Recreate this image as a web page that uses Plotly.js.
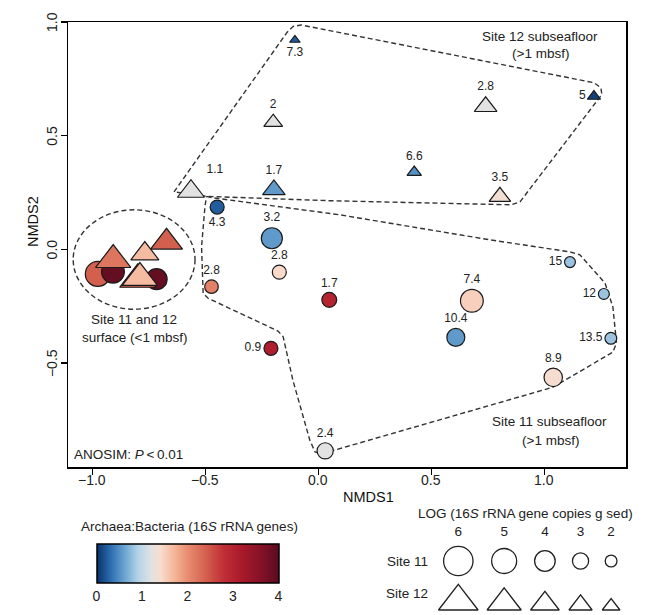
<!DOCTYPE html>
<html><head><meta charset="utf-8">
<script src="https://cdn.plot.ly/plotly-3.0.1.min.js"></script>
<style>html,body{margin:0;padding:0;background:#fff}#chart{width:656px;height:615px}</style>
</head><body><div id="chart"></div>
<script>
// ---------------- DATA ----------------
// Site 11 (circles): NMDS coordinates, Archaea:Bacteria ratio, LOG 16S copies, depth label (mbsf)
const site11X = [-0.976, -0.909, -0.716, -0.448, -0.206, -0.173, -0.473, 0.048, -0.210, 0.030, 0.679, 0.608, 1.113, 1.263, 1.294, 1.039];
const site11Y = [-0.108, -0.098, -0.131, 0.186, 0.049, -0.100, -0.164, -0.222, -0.435, -0.886, -0.226, -0.387, -0.056, -0.196, -0.391, -0.563];
const site11Ratio = [2.4, 3.9, 3.9, 0.22, 0.55, 1.42, 2.1, 3.0, 3.1, 1.2, 1.5, 0.55, 0.8, 0.8, 0.8, 1.38];
const site11LogCopies = [5.0, 4.5, 4.1, 2.5, 4.1, 2.5, 2.4, 2.7, 2.5, 3.0, 4.5, 3.4, 1.8, 1.8, 2.0, 3.5];
const site11Depth = ['', '', '', '4.3', '3.2', '2.8', '2.8', '1.7', '0.9', '2.4', '7.4', '10.4', '15', '12', '13.5', '8.9'];

// Site 12 (triangles)
const site12X = [-0.672, -0.908, -0.768, -0.799, -0.790, -0.104, -0.200, -0.564, -0.197, 0.740, 1.219, 0.424, 0.803];
const site12Y = [0.032, -0.046, -0.019, -0.132, -0.125, 0.921, 0.559, 0.255, 0.262, 0.628, 0.673, 0.339, 0.232];
const site12Ratio = [2.4, 2.2, 1.65, 2.4, 1.65, 0.2, 1.2, 1.2, 0.55, 1.2, 0.07, 0.5, 1.35];
const site12LogCopies = [4.6, 5.2, 3.9, 5.4, 5.2, 0.7, 2.2, 3.7, 2.9, 2.9, 1.2, 1.4, 2.7];
const site12Depth = ['', '', '', '', '', '7.3', '2', '1.1', '1.7', '2.8', '5', '6.6', '3.5'];

// Group outlines (NMDS units)
const hull12X = [-0.639, -0.139, -0.113, -0.077, 1.219, 1.250, 1.254, 0.892, 0.852, 0.051, -0.489, -0.639];
const hull12Y = [0.253, 0.954, 0.980, 0.987, 0.733, 0.711, 0.681, 0.209, 0.196, 0.214, 0.233, 0.253];
const hull11X = [-0.495, -0.467, 0.095, 0.759, 1.113, 1.157, 1.268, 1.303, 1.319, 1.303, 1.038, 0.064, 0.015, -0.015, -0.038, -0.113, -0.156, -0.179, -0.488, -0.510, -0.517, -0.502, -0.495];
const hull11Y = [0.233, 0.227, 0.152, 0.042, -0.011, -0.024, -0.148, -0.253, -0.412, -0.452, -0.606, -0.883, -0.899, -0.891, -0.839, -0.575, -0.384, -0.359, -0.215, -0.193, 0.012, 0.189, 0.233];
const surfaceEllipseX = [-1.085, -0.546];
const surfaceEllipseY = [-0.263, 0.174];

// Tick labels / legends
const xTicks = [-1.0, -0.5, 0.0, 0.5, 1.0];
const yTicks = [-0.5, 0.0, 0.5, 1.0];
const ratioTicks = [0, 1, 2, 3, 4];
const legendLevels = [6, 5, 4, 3, 2];

// ---------------- STYLE ----------------
const FONT = 'Liberation Sans, Arial, Helvetica, sans-serif';
const W = 656, H = 615;
const PX = v => v / W;
const PY = v => (H - v) / H;
const fmt = v => (v < 0 ? '\u2212' : '') + Math.abs(v).toFixed(1);

const colorscale = [
  [0, '#08336b'], [0.075, '#2c6cb0'], [0.15, '#6aa3d0'], [0.225, '#b3d3e8'],
  [0.3, '#e2e2e2'], [0.35, '#f8dccd'], [0.425, '#f5b699'], [0.5, '#e88c70'],
  [0.6, '#d35f4e'], [0.7, '#bf2d35'], [0.8, '#a8192b'], [0.9, '#851228'], [1, '#5a0b1f']
];
const circleSize = v => 4.4 * v + 3;
const triangleSize = v => 0.93 * (5.1 * v + 6.3);

const site11TextPos = ['top center', 'top center', 'top center', 'bottom center', 'top center', 'top center', 'top center', 'top center', 'middle left', 'top center', 'top center', 'top center', 'middle left', 'middle left', 'middle left', 'top center'];
const site12TextPos = ['top center', 'top center', 'top center', 'top center', 'top center', 'bottom center', 'top center', 'top right', 'top center', 'top center', 'middle left', 'top center', 'top center'];

const dashLine = {color: '#333', width: 1.4, dash: '5px,3px'};

const traces = [
  {x: hull12X, y: hull12Y, mode: 'lines', line: dashLine, hoverinfo: 'skip', showlegend: false},
  {x: hull11X, y: hull11Y, mode: 'lines', line: dashLine, hoverinfo: 'skip', showlegend: false},
  {
    x: site11X, y: site11Y, mode: 'markers+text', type: 'scatter', showlegend: false,
    text: site11Depth, textposition: site11TextPos,
    textfont: {family: FONT, size: 12, color: '#222'},
    marker: {
      symbol: 'circle', size: site11LogCopies.map(circleSize), opacity: 1,
      color: site11Ratio, colorscale: colorscale, cmin: 0, cmax: 4,
      line: {color: '#1a1a1a', width: 1.2},
      showscale: true,
      colorbar: {
        orientation: 'h', x: PX(187.5), xanchor: 'center', xref: 'paper',
        y: PY(544), yanchor: 'top', yref: 'paper',
        len: 181.6, lenmode: 'pixels', thickness: 38.7, thicknessmode: 'pixels',
        outlinewidth: 1.5, outlinecolor: '#000', borderwidth: 0,
        xpad: 0, ypad: 0,
        tickvals: ratioTicks, ticks: 'outside', ticklen: 1, tickcolor: 'rgba(0,0,0,0)',
        tickfont: {family: FONT, size: 14, color: '#222'}
      }
    }
  },
  {
    x: site12X, y: site12Y, mode: 'markers+text', type: 'scatter', showlegend: false,
    text: site12Depth, textposition: site12TextPos,
    textfont: {family: FONT, size: 12, color: '#222'},
    marker: {
      symbol: 'triangle-up', size: site12LogCopies.map(triangleSize), opacity: 1,
      color: site12Ratio, colorscale: colorscale, cmin: 0, cmax: 4,
      line: {color: '#1a1a1a', width: 1.2}, showscale: false
    }
  }
];

// size legend (on an auxiliary pixel-unit axis pair)
const legW = legendLevels.map(v => 5.1 * v + 6.3);
const legX = [];
legW.forEach((w, i) => { legX.push(i === 0 ? 458.3 : legX[i - 1] + (legW[i - 1] + w) / 2 + 11.5); });
const triSizes = legendLevels.map(triangleSize);
traces.push({
  x: legX, y: legX.map(() => 561), xaxis: 'x2', yaxis: 'y2', mode: 'markers', showlegend: false, hoverinfo: 'skip',
  marker: {symbol: 'circle', size: legendLevels.map(circleSize), opacity: 1, color: '#fff', line: {color: '#222', width: 1.3}}
});
traces.push({
  x: legX, y: triSizes.map(s => 610 - s / 4), xaxis: 'x2', yaxis: 'y2', mode: 'markers', showlegend: false, hoverinfo: 'skip',
  marker: {symbol: 'triangle-up', size: triSizes, opacity: 1, color: '#fff', line: {color: '#222', width: 1.3}}
});
traces.push({
  x: legX, y: legX.map(() => 533), xaxis: 'x2', yaxis: 'y2', mode: 'text', showlegend: false, hoverinfo: 'skip',
  text: legendLevels.map(String), textfont: {family: FONT, size: 13.5, color: '#222'}
});

function ann(text, x, y, opts) {
  return Object.assign({text: text, x: PX(x), y: PY(y), xref: 'paper', yref: 'paper', showarrow: false,
    xanchor: 'center', yanchor: 'middle', font: {family: FONT, size: 13.5, color: '#222'}}, opts || {});
}
const tickFont = {family: FONT, size: 14, color: '#222'};

const annotations = [
  ann('Site 12 subseafloor', 540, 36.7),
  ann('(&gt;1 mbsf)', 540, 53.3),
  ann('Site 11 subseafloor', 549, 421.7),
  ann('(&gt;1 mbsf)', 550, 440.7),
  ann('Site 11 and 12', 134, 320),
  ann('surface (&lt;1 mbsf)', 134, 337.3),
  ann('ANOSIM: <i>P</i>\u2009&lt;\u20090.01', 71.5, 455, {xanchor: 'left'}),
  ann('NMDS1', 368, 497, {font: {family: FONT, size: 14.5, color: '#111'}}),
  ann('NMDS2', 33, 222, {textangle: -90, font: {family: FONT, size: 14.5, color: '#111'}}),
  ann('Archaea:Bacteria (16<i>S</i> rRNA genes)', 189.5, 526.7),
  ann('LOG (16<i>S</i> rRNA gene copies g sed)', 525, 513),
  ann('Site 11', 407.5, 561.7),
  ann('Site 12', 407, 593)
];
// axis tick labels, placed like the reference (tight to the ticks)
xTicks.forEach(v => annotations.push({text: fmt(v), x: v, xref: 'x', y: PY(479.5), yref: 'paper',
  showarrow: false, xanchor: 'center', yanchor: 'middle', font: tickFont}));
yTicks.forEach(v => annotations.push({text: fmt(v), y: v, yref: 'y', x: PX(52), xref: 'paper',
  showarrow: false, xanchor: 'center', yanchor: 'middle', textangle: -90, font: tickFont}));

const layout = {
  width: W, height: H, margin: {l: 0, r: 0, t: 0, b: 0},
  paper_bgcolor: '#fff', plot_bgcolor: '#fff',
  font: {family: FONT, color: '#222'},
  showlegend: false,
  xaxis: {
    domain: [68 / W, 626 / W], range: [-1.108, 1.361], tickvals: xTicks, showticklabels: false,
    showline: true, mirror: true, linecolor: '#000', linewidth: 1.5,
    ticks: 'outside', ticklen: 6, tickwidth: 1.2, tickcolor: '#000',
    showgrid: false, zeroline: false
  },
  yaxis: {
    domain: [(H - 467) / H, (H - 22) / H], range: [-0.957, 1.0], tickvals: yTicks, showticklabels: false,
    showline: true, mirror: true, linecolor: '#000', linewidth: 1.5,
    ticks: 'outside', ticklen: 6, tickwidth: 1.2, tickcolor: '#000',
    showgrid: false, zeroline: false
  },
  xaxis2: {domain: [0.5, 1], range: [328, 656], anchor: 'y2', visible: false, fixedrange: true},
  yaxis2: {domain: [0, 0.15], range: [615, 522.75], anchor: 'x2', visible: false, fixedrange: true},
  shapes: [{
    type: 'circle', xref: 'x', yref: 'y',
    x0: surfaceEllipseX[0], x1: surfaceEllipseX[1], y0: surfaceEllipseY[0], y1: surfaceEllipseY[1],
    line: dashLine, layer: 'below'
  }],
  annotations: annotations
};

Plotly.newPlot('chart', traces, layout, {displayModeBar: false, staticPlot: true});
</script>
</body></html>
